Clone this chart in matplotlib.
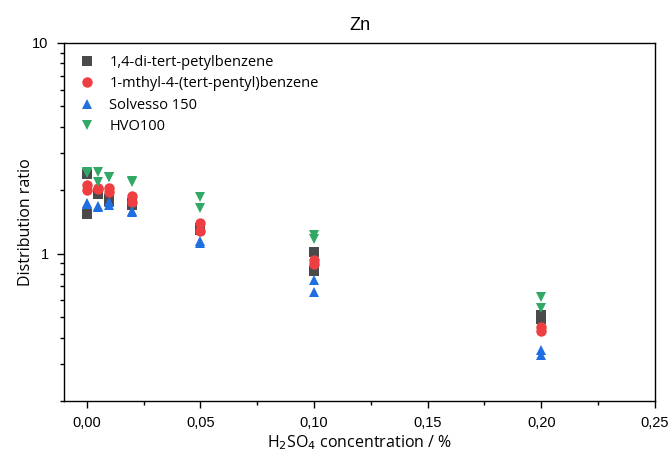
import matplotlib
matplotlib.use("Agg")
import matplotlib.pyplot as plt
from matplotlib.ticker import FixedLocator, FuncFormatter, LogLocator, NullFormatter

# H2SO4 concentration (%), two replicates per level
conc = [0, 0, 0.005, 0.005, 0.01, 0.01, 0.02, 0.02, 0.05, 0.05, 0.1, 0.1, 0.2, 0.2]

# distribution ratios of Zn for each diluent
d_dipentyl = [2.40, 1.54, 1.95, 1.93, 1.82, 1.78, 1.74, 1.70, 1.33, 1.30, 1.02, 0.83, 0.51, 0.49]
d_methylpentyl = [2.13, 2.00, 2.06, 2.02, 2.05, 1.97, 1.87, 1.76, 1.40, 1.28, 0.93, 0.89, 0.45, 0.43]
d_solvesso = [1.74, 1.72, 1.68, 1.66, 1.76, 1.71, 1.60, 1.58, 1.15, 1.12, 0.75, 0.66, 0.35, 0.33]
d_hvo = [2.45, 2.42, 2.43, 2.20, 2.32, 2.30, 2.22, 2.18, 1.85, 1.65, 1.23, 1.17, 0.62, 0.55]

labels = ["1,4-di-tert-petylbenzene", "1-mthyl-4-(tert-pentyl)benzene",
          "Solvesso 150", "HVO100"]
series = [d_dipentyl, d_methylpentyl, d_solvesso, d_hvo]
markers = ["s", "o", "^", "v"]
colors = ["#4a4a4a", "#ef3e42", "#1f6fe0", "#31a865"]

fig = plt.figure(figsize=(6.68, 4.57), dpi=100)
ax = fig.add_axes([0.0958, 0.1225, 0.8847, 0.7835])

for y, lab, m, c in zip(series, labels, markers, colors):
    ax.plot(conc, y, linestyle="none", marker=m, color=c, ms=7.5,
            markeredgewidth=0, label=lab)

ax.set_yscale("log")
ax.set_xlim(-0.01, 0.25)
ax.set_ylim(0.2, 10)

ax.xaxis.set_major_locator(FixedLocator([0, 0.05, 0.10, 0.15, 0.20, 0.25]))
ax.xaxis.set_minor_locator(FixedLocator([0.025, 0.075, 0.125, 0.175, 0.225]))
ax.xaxis.set_major_formatter(FuncFormatter(lambda v, p: f"{v:.2f}".replace(".", ",")))

ax.yaxis.set_major_locator(FixedLocator([1, 10]))
ax.yaxis.set_major_formatter(FuncFormatter(lambda v, p: f"{v:g}"))
ax.yaxis.set_minor_locator(LogLocator(base=10, subs=range(2, 10)))
ax.yaxis.set_minor_formatter(NullFormatter())

ax.tick_params(which="major", direction="out", length=5, width=1,
               labelsize=10.5, pad=6)
ax.tick_params(which="minor", direction="out", length=3, width=1)
for t in ax.get_xticklabels() + ax.get_yticklabels():
    t.set_fontfamily("Liberation Sans")
for s in ax.spines.values():
    s.set_linewidth(1)

ax.set_xlabel("H$_2$SO$_4$ concentration / %", fontsize=11.5,
              fontfamily="Open Sans", labelpad=2)
ax.set_ylabel("Distribution ratio", fontsize=11.5, fontfamily="Open Sans",
              labelpad=-1)
ax.set_title("Zn", fontsize=13, fontfamily="Liberation Sans", pad=9)

ax.legend(loc="upper left", frameon=False, prop={"family": "Open Sans", "size": 10.5},
          handletextpad=0.8, borderaxespad=0.4, labelspacing=0.45,
          handlelength=1.5)

fig.savefig("out.png", dpi=100)
